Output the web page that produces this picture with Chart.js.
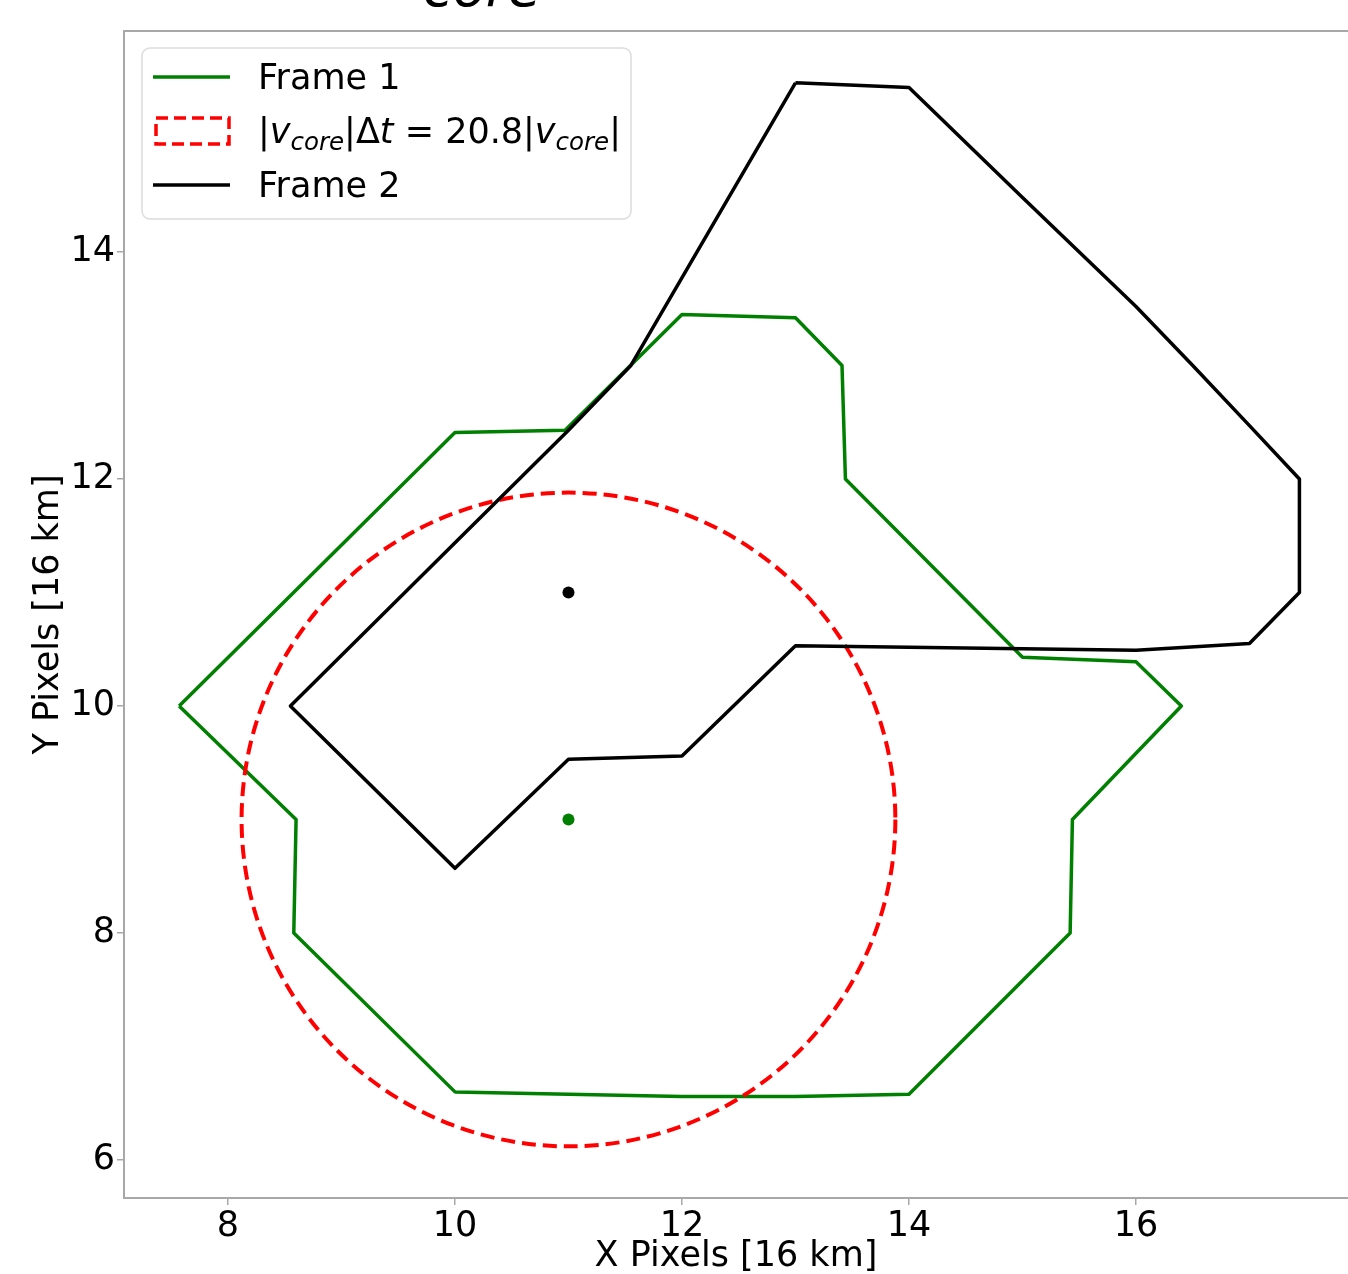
<!DOCTYPE html>
<html>
<head>
<meta charset="utf-8">
<script src="https://cdn.jsdelivr.net/npm/chart.js@4.4.1/dist/chart.umd.min.js"></script>
<style>
  html, body { margin: 0; padding: 0; background: #fff; }
  #wrap { position: relative; width: 1348px; height: 1274px; overflow: hidden; }
</style>
</head>
<body>
<div id="wrap">
  <canvas id="chart" width="1348" height="1274"></canvas>
</div>
<script>
// contour of frame 1 (green), closed
const frame1X = [7.57, 10.0, 10.97, 12.0, 13.0, 13.41, 13.44, 15.0, 16.0, 16.4, 15.44, 15.42, 14.0, 13.0, 12.0, 10.0, 8.58, 8.6, 7.57];
const frame1Y = [10.0, 12.41, 12.43, 13.45, 13.42, 13.0, 12.0, 10.43, 10.39, 10.0, 9.0, 8.0, 6.58, 6.56, 6.56, 6.6, 8.0, 9.0, 10.0];
// contour of frame 2 (black), closed
const frame2X = [13.0, 14.0, 15.0, 16.0, 16.5, 17.0, 17.44, 17.44, 17.0, 16.0, 13.0, 12.0, 11.0, 10.0, 8.55, 11.0, 11.55, 13.0];
const frame2Y = [15.49, 15.45, 14.48, 13.52, 13.0, 12.47, 12.0, 11.0, 10.55, 10.49, 10.53, 9.56, 9.53, 8.57, 10.0, 12.43, 13.0, 15.49];
// core centres
const core1 = [11.0, 9.0];
const core2 = [11.0, 11.0];
// search radius |v_core| * dt, centred on frame 1 core
const circleCenter = [11.0, 9.0];
const circleRadius = 2.88;

const xTicks = [8, 10, 12, 14, 16];
const yTicks = [6, 8, 10, 12, 14];

const toPts = (xs, ys) => xs.map((x, i) => ({ x: x, y: ys[i] }));

const FONT = 'DejaVu Sans';
const GREEN = '#008000';
const SPINE = '#a8a8a8';

const circlePlugin = {
  id: 'circle',
  afterDatasetDraw(chart, args) {
    if (args.meta.label !== 'Frame 1') return;
    const xs = chart.scales.x, ys = chart.scales.y, a = chart.chartArea;
    const cx = xs.getPixelForValue(circleCenter[0]);
    const cy = ys.getPixelForValue(circleCenter[1]);
    const rx = xs.getPixelForValue(circleCenter[0] + circleRadius) - cx;
    const ry = cy - ys.getPixelForValue(circleCenter[1] + circleRadius);
    const ctx = chart.ctx;
    ctx.save();
    ctx.beginPath();
    ctx.rect(a.left, a.top, a.right - a.left, a.bottom - a.top);
    ctx.clip();
    ctx.setLineDash([14, 7]);
    ctx.lineWidth = 4;
    ctx.strokeStyle = '#ff0000';
    ctx.beginPath();
    ctx.ellipse(cx, cy, rx, ry, 0, 0, 2 * Math.PI);
    ctx.stroke();
    ctx.restore();
  }
};

function drawPieces(ctx, x, y, pieces, size) {
  pieces.forEach(p => {
    const s = p.sub ? size * 0.7 : size;
    ctx.font = (p.it ? 'italic ' : '') + s + 'px "' + FONT + '"';
    ctx.fillText(p.t, x, y + (p.sub ? 7 : 0));
    x += ctx.measureText(p.t).width;
  });
}

const decorPlugin = {
  id: 'decor',
  afterDraw(chart) {
    const ctx = chart.ctx, a = chart.chartArea;
    ctx.save();
    // top spine
    ctx.strokeStyle = SPINE;
    ctx.lineWidth = 2;
    ctx.beginPath();
    ctx.moveTo(a.left, a.top);
    ctx.lineTo(a.right, a.top);
    ctx.stroke();

    // cut-off title (only the subscript bottom shows)
    ctx.fillStyle = '#000';
    ctx.textBaseline = 'alphabetic';
    ctx.font = 'italic 54px "' + FONT + '"';
    ctx.fillText('core', 423, 6);

    // legend box
    const bx = 142, by = 48, bw = 489, bh = 171, r = 8;
    ctx.fillStyle = 'rgba(255,255,255,0.8)';
    ctx.strokeStyle = '#dcdcdc';
    ctx.lineWidth = 1.5;
    ctx.beginPath();
    ctx.roundRect(bx, by, bw, bh, r);
    ctx.fill();
    ctx.stroke();

    ctx.lineWidth = 3.5;
    ctx.strokeStyle = GREEN;
    ctx.beginPath(); ctx.moveTo(153, 77); ctx.lineTo(230, 77); ctx.stroke();

    ctx.strokeStyle = '#ff0000';
    ctx.lineWidth = 3.5;
    ctx.setLineDash([12, 6]);
    ctx.strokeRect(156, 118, 73, 26);
    ctx.setLineDash([]);

    ctx.strokeStyle = '#000';
    ctx.lineWidth = 3.5;
    ctx.beginPath(); ctx.moveTo(153, 185); ctx.lineTo(230, 185); ctx.stroke();

    ctx.fillStyle = '#000';
    ctx.font = '35px "' + FONT + '"';
    ctx.fillText('Frame 1', 258, 89);
    ctx.fillText('Frame 2', 258, 197);
    drawPieces(ctx, 258, 143, [
      { t: '|' }, { t: 'v', it: true }, { t: 'core', it: true, sub: true },
      { t: '|Δ' }, { t: 't', it: true }, { t: ' = 20.8|' },
      { t: 'v', it: true }, { t: 'core', it: true, sub: true }, { t: '|' }
    ], 35);
    ctx.restore();
  }
};

new Chart(document.getElementById('chart'), {
  type: 'scatter',
  data: {
    datasets: [
      {
        label: 'Frame 1 core',
        data: [{ x: core1[0], y: core1[1] }],
        pointRadius: 6,
        pointBackgroundColor: GREEN,
        pointBorderWidth: 0,
        order: 0
      },
      {
        label: 'Frame 2 core',
        data: [{ x: core2[0], y: core2[1] }],
        pointRadius: 6,
        pointBackgroundColor: '#000',
        pointBorderWidth: 0,
        order: 0
      },
      {
        label: 'Frame 2',
        data: toPts(frame2X, frame2Y),
        showLine: true,
        borderColor: '#000',
        borderWidth: 3.5,
        borderJoinStyle: 'round',
        pointRadius: 0,
        tension: 0,
        order: 1
      },
      {
        label: 'Frame 1',
        data: toPts(frame1X, frame1Y),
        showLine: true,
        borderColor: GREEN,
        borderWidth: 3.5,
        borderJoinStyle: 'round',
        pointRadius: 0,
        tension: 0,
        order: 3
      }
    ]
  },
  options: {
    responsive: false,
    animation: false,
    layout: { autoPadding: false, padding: { top: 31, right: 0, left: 0, bottom: 0 } },
    plugins: {
      legend: { display: false },
      tooltip: { enabled: false }
    },
    scales: {
      x: {
        type: 'linear',
        min: 7.084,
        max: 17.868,
        afterBuildTicks: s => { s.ticks = xTicks.map(v => ({ value: v })); },
        afterFit: s => { s.height = 76; s.paddingLeft = 0; s.paddingRight = 0; },
        grid: { drawOnChartArea: false, drawTicks: true, tickLength: 7, color: SPINE, lineWidth: 1.5 },
        border: { color: SPINE, width: 2 },
        ticks: { color: '#000', padding: 1, maxRotation: 0, font: { family: FONT, size: 35 } },
        title: { display: true, text: 'X Pixels [16 km]', color: '#000', padding: 0,
                 font: { family: FONT, size: 35, lineHeight: 1.0 } }
      },
      y: {
        type: 'linear',
        min: 5.665,
        max: 15.947,
        afterBuildTicks: s => { s.ticks = yTicks.map(v => ({ value: v })); },
        afterFit: s => { s.width = 124; s.paddingTop = 0; s.paddingBottom = 0; },
        grid: { drawOnChartArea: false, drawTicks: true, tickLength: 7, color: SPINE, lineWidth: 1.5 },
        border: { color: SPINE, width: 2 },
        ticks: { color: '#000', padding: 2, font: { family: FONT, size: 35 } },
        title: { display: true, text: 'Y Pixels [16 km]', color: '#000', padding: { top: 30, bottom: 0 },
                 font: { family: FONT, size: 35, lineHeight: 1.1 } }
      }
    }
  },
  plugins: [circlePlugin, decorPlugin]
});
</script>
</body>
</html>
